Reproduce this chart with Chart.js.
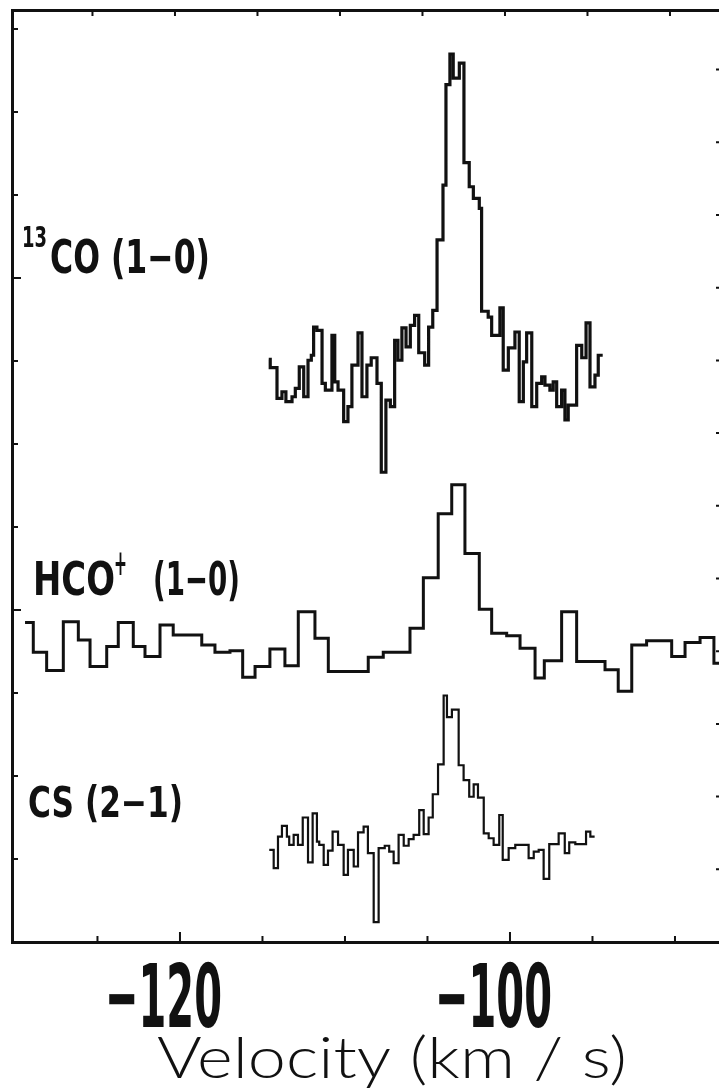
<!DOCTYPE html>
<html>
<head>
<meta charset="utf-8">
<title>Velocity spectra</title>
<script src="https://cdn.jsdelivr.net/npm/chart.js@4.4.1/dist/chart.umd.min.js"></script>
<style>
  html, body { margin: 0; padding: 0; background: #fff; overflow: hidden; }
  #wrap { position: relative; width: 730px; height: 1089px; }
</style>
</head>
<body>
<div id="wrap"><canvas id="spectra"></canvas></div>
<script>
// spectra are stacked with their own offsets; each velocity is the left edge of a channel
var co13Vel = [-114.62, -114.53, -114.12, -113.82, -113.58, -113.21, -113.01, -112.77, -112.50, -112.24,
  -112.04, -111.90, -111.70, -111.39, -111.19, -110.79, -110.62, -110.42, -110.08, -109.82,
  -109.58, -109.21, -108.97, -108.67, -108.41, -108.06, -107.80, -107.52, -107.25, -106.99,
  -106.79, -106.55, -106.30, -106.04, -105.78, -105.53, -105.17, -104.93, -104.68, -104.42,
  -104.06, -103.88, -103.64, -103.44, -103.07, -102.79, -102.47, -102.22, -101.86, -101.72,
  -101.32, -101.11, -100.61, -100.41, -100.10, -99.70, -99.44, -99.19, -98.99, -98.68,
  -98.38, -98.08, -97.88, -97.58, -97.38, -97.17, -96.87, -96.67, -96.47, -95.96,
  -95.65, -95.39, -95.15, -94.85, -94.65, -94.38];
var co13Flux = [7.02, 6.92, 6.55, 6.63, 6.51, 6.57, 6.67, 6.93, 6.57, 7.01,
  7.07, 7.41, 7.37, 6.73, 6.65, 7.31, 6.75, 6.65, 6.27, 6.45,
  6.95, 7.34, 6.57, 6.95, 7.04, 6.73, 5.66, 6.53, 6.45, 7.25,
  7.01, 7.40, 7.17, 7.43, 7.55, 7.10, 6.95, 7.41, 7.61, 8.46,
  9.12, 10.33, 10.70, 10.41, 10.59, 9.39, 9.10, 8.96, 8.84, 7.60,
  7.53, 7.31, 7.64, 6.89, 7.16, 7.35, 6.51, 6.99, 7.34, 6.45,
  6.73, 6.81, 6.71, 6.65, 6.75, 6.45, 6.65, 6.29, 6.47, 7.19,
  7.04, 7.46, 6.69, 6.83, 7.07, 7.07];

var hcoVel = [-129.39, -128.89, -128.08, -127.07, -126.16, -125.45, -124.44, -123.74, -122.83, -122.12,
  -121.21, -120.41, -118.68, -117.88, -116.97, -116.20, -115.45, -114.55, -113.64, -112.83,
  -111.82, -111.01, -108.59, -107.68, -106.06, -105.25, -104.35, -103.53, -102.73, -101.86,
  -101.11, -100.20, -99.39, -98.48, -97.92, -96.87, -95.96, -94.24, -93.44, -92.62,
  -91.72, -90.20, -89.39, -88.48, -87.64, -86.80];
var hcoFlux = [3.85, 3.49, 3.27, 3.86, 3.64, 3.32, 3.56, 3.85, 3.56, 3.44,
  3.82, 3.70, 3.58, 3.49, 3.51, 3.19, 3.32, 3.53, 3.33, 3.98,
  3.66, 3.26, 3.43, 3.49, 3.78, 4.39, 5.16, 5.51, 4.68, 4.01,
  3.72, 3.69, 3.54, 3.18, 3.39, 3.98, 3.38, 3.28, 3.02, 3.58,
  3.63, 3.44, 3.61, 3.67, 3.36, 3.36];

var csVel = [-114.59, -114.32, -114.06, -113.82, -113.52, -113.38, -113.11, -112.85, -112.56, -112.24,
  -111.96, -111.70, -111.56, -111.29, -111.03, -110.75, -110.42, -110.08, -109.82, -109.47,
  -109.21, -108.87, -108.61, -108.26, -107.96, -107.59, -107.32, -107.05, -106.75, -106.44,
  -106.14, -105.84, -105.50, -105.23, -104.93, -104.68, -104.36, -104.02, -103.82, -103.52,
  -103.11, -102.81, -102.47, -102.20, -101.94, -101.59, -101.29, -100.99, -100.65, -100.44,
  -100.08, -99.68, -98.87, -98.56, -98.26, -97.96, -97.62, -97.05, -96.68, -96.41,
  -96.04, -95.39, -95.13, -94.87];
var csFlux = [1.11, 0.89, 1.27, 1.40, 1.27, 1.17, 1.29, 1.17, 1.50, 0.96,
  1.55, 1.21, 1.17, 0.93, 1.10, 1.33, 1.17, 0.81, 1.11, 0.91,
  1.32, 1.39, 1.07, 0.24, 1.13, 1.16, 1.09, 0.95, 1.29, 1.16,
  1.24, 1.29, 1.59, 1.30, 1.50, 1.78, 2.14, 2.97, 2.71, 2.80,
  2.13, 1.95, 1.75, 1.90, 1.74, 1.31, 1.25, 1.17, 1.53, 0.99,
  1.13, 1.17, 1.01, 1.09, 1.11, 0.76, 1.18, 1.31, 1.07, 1.20,
  1.18, 1.33, 1.27, 1.27];

var velLabels = [-120, -100];
var velMajor = [-120, -100];
var fluxMajor = [0, 4, 8];

var INK = '#111';
var BOLD = '"Liberation Sans Narrow", "DejaVu Sans Condensed", "Liberation Sans", sans-serif';
var THIN = 'Lato, "Open Sans", "DejaVu Sans", sans-serif';

function toPoints(vel, flux) {
  return vel.map(function(v, i) { return { x: v, y: flux[i] }; });
}

// draw text squeezed or stretched to a given width
function fitText(ctx, str, x, y, font, width) {
  ctx.font = font;
  var w = ctx.measureText(str).width;
  ctx.save();
  ctx.translate(x, y);
  ctx.scale(width / w, 1);
  ctx.fillText(str, 0, 0);
  ctx.restore();
}

var frameTicks = {
  id: 'frameTicks',
  afterDraw: function(chart) {
    var ctx = chart.ctx, area = chart.chartArea;
    var sx = chart.scales.x, sy = chart.scales.y, sr = chart.scales.yRight;
    ctx.save();
    ctx.strokeStyle = INK;
    ctx.lineWidth = 2;
    ctx.beginPath();
    sx.ticks.forEach(function(t) {
      var px = sx.getPixelForValue(t.value);
      if (px < area.left + 6 || px > area.right - 6) return;
      var len = velMajor.indexOf(t.value) >= 0 ? 10 : 6;
      ctx.moveTo(px, area.bottom); ctx.lineTo(px, area.bottom - len);
      ctx.moveTo(px - 5, area.top); ctx.lineTo(px - 5, area.top + 6);
    });
    sy.ticks.forEach(function(t) {
      var py = sy.getPixelForValue(t.value);
      if (py > area.bottom - 6) return;
      var len = fluxMajor.indexOf(t.value) >= 0 ? 9 : 6;
      ctx.moveTo(area.left, py); ctx.lineTo(area.left + len, py);
    });
    sr.ticks.forEach(function(t) {
      var py = sr.getPixelForValue(t.value);
      if (py > area.bottom - 6 || py < area.top + 6) return;
      ctx.moveTo(area.right, py); ctx.lineTo(area.right - 7, py);
    });
    ctx.stroke();

    // tick labels and axis title
    ctx.fillStyle = INK;
    ctx.textBaseline = 'alphabetic';
    ctx.textAlign = 'left';
    velLabels.forEach(function(v) {
      var px = sx.getPixelForValue(v);
      fitText(ctx, '\u2212' + Math.abs(v), px - 17 - 58, 1027, 'bold 88px ' + BOLD, 117);
    });
    fitText(ctx, 'Velocity (km / s)', 157, 1078, '300 57px ' + THIN, 470);

    // line labels
    fitText(ctx, '13', 22, 247, 'bold 28px ' + BOLD, 25);
    fitText(ctx, 'CO (1\u22120)', 50, 273, 'bold 46px ' + BOLD, 160);
    fitText(ctx, 'HCO', 33, 595, 'bold 46px ' + BOLD, 82);
    fitText(ctx, '+', 114, 575, 'bold 36px ' + BOLD, 13);
    fitText(ctx, '(1\u22120)', 153, 595, 'bold 46px ' + BOLD, 87);
    fitText(ctx, 'CS (2\u22121)', 28, 817, 'bold 42px ' + BOLD, 155);
    ctx.restore();
  }
};

function spectrum(label, vel, flux, width) {
  return {
    label: label,
    data: toPoints(vel, flux),
    stepped: 'before',
    borderColor: INK,
    borderWidth: width,
    borderJoinStyle: 'miter',
    borderCapStyle: 'butt',
    pointRadius: 0,
    fill: false,
    xAxisID: 'x',
    yAxisID: 'y'
  };
}

var hiddenTicks = { display: false };
var noGrid = { display: false, drawTicks: false };
var frameBorder = { display: true, width: 3, color: INK };

new Chart(document.getElementById('spectra'), {
  type: 'line',
  data: {
    datasets: [
      spectrum('13CO (1-0)', co13Vel, co13Flux, 3.2),
      spectrum('HCO+ (1-0)', hcoVel, hcoFlux, 3),
      spectrum('CS (2-1)', csVel, csFlux, 2.2)
    ]
  },
  options: {
    responsive: true,
    maintainAspectRatio: false,
    animation: false,
    layout: { padding: 0 },
    plugins: { legend: { display: false }, tooltip: { enabled: false } },
    scales: {
      x: {
        type: 'linear', position: 'bottom', min: -130.18, max: -87.09,
        ticks: { display: false, stepSize: 5, includeBounds: false },
        grid: noGrid, border: frameBorder,
        afterFit: function(s) { s.height = 147; }
      },
      xTop: {
        type: 'linear', position: 'top', min: -130.18, max: -87.09,
        ticks: hiddenTicks, grid: noGrid, border: frameBorder,
        afterFit: function(s) { s.height = 10; }
      },
      y: {
        type: 'linear', position: 'left', min: 0, max: 11.23,
        ticks: { display: false, stepSize: 1, includeBounds: false },
        grid: noGrid, border: frameBorder,
        afterFit: function(s) { s.width = 12; }
      },
      yRight: {
        type: 'linear', position: 'right', min: 0, max: 12.82,
        ticks: { display: false, stepSize: 1, includeBounds: false },
        grid: noGrid, border: frameBorder,
        afterFit: function(s) { s.width = 7; }
      }
    }
  },
  plugins: [frameTicks]
});
</script>
</body>
</html>
